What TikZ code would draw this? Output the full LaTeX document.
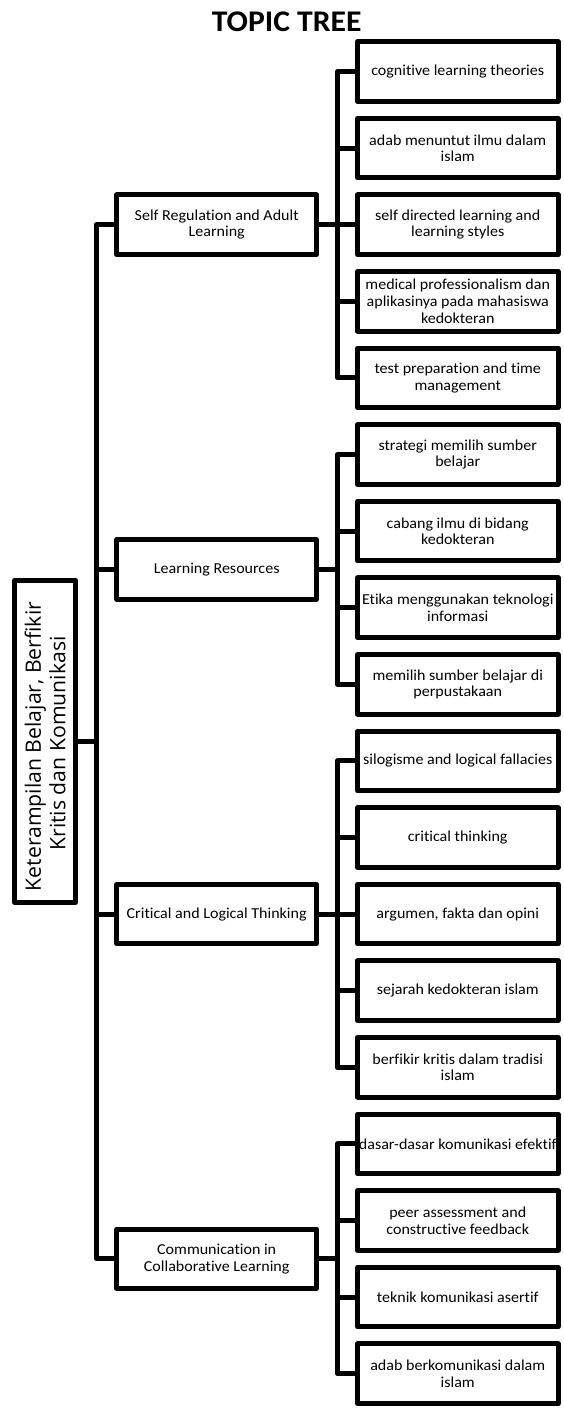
\documentclass[tikz,border=0pt]{standalone}
\usepackage{fontspec}
\setmainfont{Carlito}[FakeStretch=1.055, Ligatures=NoCommon]
\newfontfamily\rootfont{Open Sans}[Ligatures=NoCommon]
\begin{document}
\begin{tikzpicture}[x=1pt,y=-1pt,
  box/.style={draw, line width=5pt, line join=round, inner sep=0pt, outer sep=0pt,
    align=center, font=\fontsize{15.2}{16.6}\selectfont},
  leafbox/.style={box, minimum width=200.5pt, minimum height=59.5pt},
  midbox/.style={box, minimum width=199.7pt, minimum height=59.5pt},
  rootbox/.style={draw, line width=5pt, line join=round, inner sep=0pt, outer sep=0pt,
    minimum width=322pt, minimum height=60.7pt, rotate=90, align=center,
    font=\rootfont\fontsize{21.2}{24.5}\selectfont},
  conn/.style={line width=5pt, line join=round},
  titlestyle/.style={font=\fontsize{30}{36}\selectfont\bfseries, inner sep=0pt, anchor=base}
]
\useasboundingbox (0,0) rectangle (564,1414);

\node[titlestyle] (title) at (286.7,31.7) {TOPIC TREE};

% root
\node[rootbox] (root) at (45.2,741.5) {Keterampilan Belajar, Berfikir\hspace*{10pt}\\Kritis dan Komunikasi\hspace*{4pt}};

% middle level
\node[midbox] (m1) at (216.7,224.7) {Self Regulation and Adult\\Learning};
\node[midbox] (m2) at (216.7,569.4) {Learning Resources};
\node[midbox] (m3) at (216.7,914.1) {Critical and Logical Thinking};
\node[midbox] (m4) at (216.7,1258.8) {Communication in\\Collaborative Learning};

% leaves
\node[leafbox] (l1) at (457.75,71.5) {cognitive learning theories};
\node[leafbox] (l2) at (457.75,148.1) {adab menuntut ilmu dalam\\islam};
\node[leafbox] (l3) at (457.75,224.7) {self directed learning and\\learning styles};
\node[leafbox] (l4) at (457.75,301.3) {medical professionalism dan\\aplikasinya pada mahasiswa\\kedokteran};
\node[leafbox] (l5) at (457.75,377.9) {test preparation and time\\management};

\node[leafbox] (l6) at (457.75,454.5) {strategi memilih sumber\\belajar};
\node[leafbox] (l7) at (457.75,531.1) {cabang ilmu di bidang\\kedokteran};
\node[leafbox] (l8) at (457.75,607.7) {Etika menggunakan teknologi\\informasi};
\node[leafbox] (l9) at (457.75,684.3) {memilih sumber belajar di\\perpustakaan};

\node[leafbox] (l10) at (457.75,760.9) {silogisme and logical fallacies};
\node[leafbox] (l11) at (457.75,837.5) {critical thinking};
\node[leafbox] (l12) at (457.75,914.1) {argumen, fakta dan opini};
\node[leafbox] (l13) at (457.75,990.7) {sejarah kedokteran islam};
\node[leafbox] (l14) at (457.75,1067.3) {berfikir kritis dalam tradisi\\islam};

\node[leafbox] (l15) at (457.75,1143.9) {dasar-dasar komunikasi efektif};
\node[leafbox] (l16) at (457.75,1220.5) {peer assessment and\\constructive feedback};
\node[leafbox] (l17) at (457.75,1297.1) {teknik komunikasi asertif};
\node[leafbox] (l18) at (457.75,1373.7) {adab berkomunikasi dalam\\islam};

% main connectors
\draw[conn] (m1.west) -- ++(-20.5,0) |- (m4.west);
\draw[conn] (m2.west) -- ++(-20.5,0);
\draw[conn] (m3.west) -- ++(-20.5,0);
\draw[conn] (root.south) -- ++(20.8,0);

% group 1
\draw[conn] (l1.west) -- ++(-20,0) |- (l5.west);
\draw[conn] (l2.west) -- ++(-20,0);
\draw[conn] (l3.west) -- ++(-20,0);
\draw[conn] (l4.west) -- ++(-20,0);
\draw[conn] (m1.east) -- ++(21,0);
% group 2
\draw[conn] (l6.west) -- ++(-20,0) |- (l9.west);
\draw[conn] (l7.west) -- ++(-20,0);
\draw[conn] (l8.west) -- ++(-20,0);
\draw[conn] (m2.east) -- ++(21,0);
% group 3
\draw[conn] (l10.west) -- ++(-20,0) |- (l14.west);
\draw[conn] (l11.west) -- ++(-20,0);
\draw[conn] (l12.west) -- ++(-20,0);
\draw[conn] (l13.west) -- ++(-20,0);
\draw[conn] (m3.east) -- ++(21,0);
% group 4
\draw[conn] (l15.west) -- ++(-20,0) |- (l18.west);
\draw[conn] (l16.west) -- ++(-20,0);
\draw[conn] (l17.west) -- ++(-20,0);
\draw[conn] (m4.east) -- ++(21,0);
\end{tikzpicture}
\end{document}
